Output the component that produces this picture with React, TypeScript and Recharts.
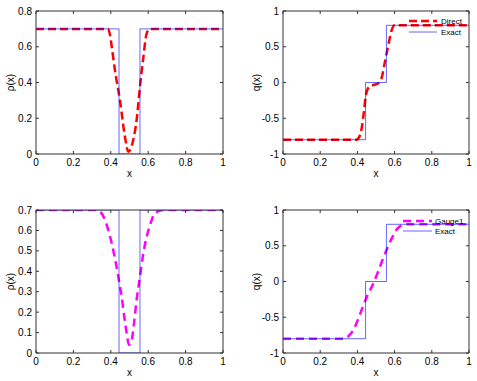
import React from 'react'
import { LineChart, Line, XAxis, YAxis } from 'recharts'

// ticks
const xTicks = [0, 0.2, 0.4, 0.6, 0.8, 1]
const rhoTicksTop = [0, 0.2, 0.4, 0.6, 0.8]
const rhoTicksBottom = [0, 0.1, 0.2, 0.3, 0.4, 0.5, 0.6, 0.7]
const qTicks = [-1, -0.5, 0, 0.5, 1]

// exact solution (piecewise constant)
const exactX = [0, 0.444, 0.444, 0.556, 0.556, 1]
const exactRho = [0.7, 0.7, 0, 0, 0.7, 0.7]
const exactQ = [-0.8, -0.8, 0, 0, 0.8, 0.8]

// Direct
const directRhoX = [0, 0.385, 0.395, 0.405, 0.422, 0.449, 0.476, 0.494, 0.52, 0.538, 0.556, 0.574, 0.592, 0.61, 1]
const directRho = [0.7, 0.7, 0.67, 0.6, 0.47, 0.3, 0.095, 0.013, 0.078, 0.19, 0.376, 0.54, 0.675, 0.7, 0.7]
const directQX = [0, 0.395, 0.41, 0.423, 0.435, 0.446, 0.464, 0.486, 0.513, 0.53, 0.548, 0.566, 0.584, 0.6, 1]
const directQ = [-0.8, -0.8, -0.76, -0.64, -0.41, -0.175, -0.06, -0.035, -0.01, 0.06, 0.29, 0.52, 0.73, 0.8, 0.8]

// Gauge1
const gaugeRhoX = [0, 0.32, 0.345, 0.369, 0.387, 0.405, 0.422, 0.44, 0.458, 0.472, 0.485, 0.497, 0.512, 0.524, 0.538, 0.556, 0.574, 0.592, 0.61, 0.636, 0.68, 1]
const gaugeRho = [0.7, 0.7, 0.69, 0.651, 0.6, 0.537, 0.464, 0.374, 0.276, 0.178, 0.096, 0.04, 0.064, 0.145, 0.26, 0.374, 0.488, 0.57, 0.627, 0.684, 0.7, 0.7]
const gaugeQX = [0, 0.33, 0.35, 0.378, 0.405, 0.43, 0.455, 0.485, 0.51, 0.535, 0.56, 0.588, 0.615, 0.645, 0.67, 1]
const gaugeQ = [-0.8, -0.8, -0.77, -0.68, -0.52, -0.35, -0.19, -0.03, 0.13, 0.3, 0.46, 0.62, 0.74, 0.79, 0.8, 0.8]

const zip = (xs: number[], ys: number[]) => xs.map((x, i) => ({ x, y: ys[i] }))
const fmt = (v: number) => String(v)

const FONT = '"Liberation Sans", Arial, Helvetica, sans-serif'
const AX = '#333'
const BLUE = '#0000ff'
const tickStyle = { fill: '#000', fontSize: 10, fontFamily: FONT }

function Panel({ left, top, width, height, margin, yWidth, xHeight, yDomain, yTicks, yLabel, yLabelOffset, approx, exact, color, dash }: any) {
  return (
    <div style={{ position: 'absolute', left, top }}>
      <LineChart width={width} height={height} margin={margin}>
        <XAxis xAxisId="b" type="number" dataKey="x" domain={[0, 1]} ticks={xTicks} tickFormatter={fmt}
          allowDataOverflow height={xHeight} stroke={AX} tickSize={-3} tickMargin={8} tick={tickStyle}
          label={{ value: 'x', position: 'insideTop', offset: 16, fill: '#000', fontSize: 10, fontFamily: FONT }} />
        <XAxis xAxisId="t" orientation="top" type="number" dataKey="x" domain={[0, 1]} ticks={xTicks}
          tickFormatter={() => ''} allowDataOverflow height={1} stroke={AX} tickSize={-3} />
        <YAxis yAxisId="l" type="number" domain={yDomain} ticks={yTicks} tickFormatter={fmt} allowDataOverflow
          width={yWidth} stroke={AX} tickSize={-3} tickMargin={7} tick={tickStyle}
          label={{ value: yLabel, angle: -90, position: 'insideLeft', offset: yLabelOffset, fill: '#000', fontSize: 10, fontFamily: FONT, style: { textAnchor: 'middle' } }} />
        <YAxis yAxisId="r" orientation="right" type="number" domain={yDomain} ticks={yTicks}
          tickFormatter={() => ''} allowDataOverflow width={1} stroke={AX} tickSize={-3} />
        <Line xAxisId="b" yAxisId="l" data={approx} dataKey="y" type="monotone" stroke={color} strokeWidth={2.5}
          strokeDasharray={dash} dot={false} isAnimationActive={false} />
        <Line xAxisId="b" yAxisId="l" data={exact} dataKey="y" type="linear" stroke={BLUE} strokeOpacity={0.6}
          strokeWidth={1} dot={false} isAnimationActive={false} />
      </LineChart>
    </div>
  )
}

function LegendRows({ x0, x1, tx, y0, y1, name, color, dash }: any) {
  return (
    <g fontFamily={FONT} fontSize={8} fill="#000">
      <line x1={x0} x2={x1} y1={y0} y2={y0} stroke={color} strokeWidth={2.5} strokeDasharray={dash} />
      <text x={tx} y={y0 + 3}>{name}</text>
      <line x1={x0} x2={x1} y1={y1} y2={y1} stroke={BLUE} strokeOpacity={0.6} strokeWidth={1} />
      <text x={tx} y={y1 + 3}>Exact</text>
    </g>
  )
}

export default function App() {
  const topMargin = { top: 10, right: 16, bottom: 0, left: 6 }
  const topMarginR = { top: 10, right: 7, bottom: 0, left: 6 }
  const botMargin = { top: 19, right: 16, bottom: 0, left: 6 }
  const botMarginR = { top: 19, right: 7, bottom: 0, left: 6 }
  return (
    <div style={{ position: 'absolute', left: 0, top: 0, width: 477, height: 381, background: '#fff' }}>
      <Panel left={0} top={0} width={240} height={190} margin={topMargin} yWidth={30} xHeight={36}
        yDomain={[0, 0.8]} yTicks={rhoTicksTop} yLabel="ρ(x)" yLabelOffset={4}
        approx={zip(directRhoX, directRho)} exact={zip(exactX, exactRho)} color="#ff0000" dash="8 4" />
      <Panel left={237} top={0} width={240} height={190} margin={topMarginR} yWidth={40} xHeight={36}
        yDomain={[-1, 1]} yTicks={qTicks} yLabel="q(x)" yLabelOffset={13}
        approx={zip(directQX, directQ)} exact={zip(exactX, exactQ)} color="#ff0000" dash="8 4" />
      <Panel left={0} top={190} width={240} height={191} margin={botMargin} yWidth={30} xHeight={28}
        yDomain={[0, 0.7]} yTicks={rhoTicksBottom} yLabel="ρ(x)" yLabelOffset={4}
        approx={zip(gaugeRhoX, gaugeRho)} exact={zip(exactX, exactRho)} color="#ff00ff" dash="8 5" />
      <Panel left={237} top={190} width={240} height={191} margin={botMarginR} yWidth={40} xHeight={28}
        yDomain={[-1, 1]} yTicks={qTicks} yLabel="q(x)" yLabelOffset={13}
        approx={zip(gaugeQX, gaugeQ)} exact={zip(exactX, exactQ)} color="#ff00ff" dash="8 5" />
      <svg width={477} height={381} style={{ position: 'absolute', left: 0, top: 0, pointerEvents: 'none' }}>
        <LegendRows x0={409} x1={437} tx={441} y0={21} y1={32} name="Direct" color="#ff0000" dash="8 4" />
        <LegendRows x0={403} x1={432} tx={435} y0={221} y1={231} name="Gauge1" color="#ff00ff" dash="8 5" />
      </svg>
    </div>
  )
}
